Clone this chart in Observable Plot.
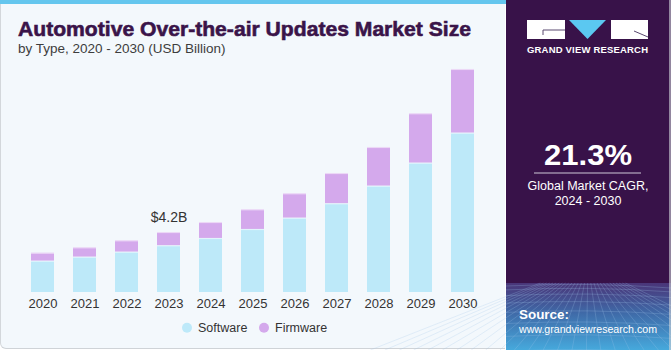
<!DOCTYPE html>
<html><head><meta charset="utf-8">
<script src="https://cdn.jsdelivr.net/npm/d3@7"></script>
<script src="https://cdn.jsdelivr.net/npm/@observablehq/plot@0.6"></script>
<style>
html,body{margin:0;padding:0;background:#ffffff;}
#root{position:relative;width:671px;height:350px;overflow:hidden;font-family:"Liberation Sans",Arial,sans-serif;}
#left{position:absolute;left:0;top:0;width:505px;height:349px;background:#f3f8fc;border-left:1px solid #d3d7db;border-bottom:1px solid #cfd3d7;border-radius:0 0 0 6px;box-sizing:border-box;}
#stripe{position:absolute;left:0;top:0;width:506px;height:4px;background:#64c6ee;}
#chart{position:absolute;left:0;top:0;}
#overlay{position:absolute;left:0;top:0;}
</style>
</head><body>
<div id="root">
  <div id="left"></div>
  <div id="stripe"></div>
  <div id="chart"></div>
  <svg id="overlay" width="671" height="350"></svg>
</div>
<script>
// ---- data ----
const years = ["2020","2021","2022","2023","2024","2025","2026","2027","2028","2029","2030"];
const software = [2.19, 2.47, 2.82, 3.27, 3.78, 4.41, 5.20, 6.21, 7.44, 9.05, 11.15];
const firmware = [0.56, 0.66, 0.80, 0.93, 1.12, 1.38, 1.71, 2.12, 2.71, 3.46, 4.46];
const seriesNames = ["Software", "Firmware"];
const seriesColors = ["#bde9f9", "#d4a9ec"];
const annotationYear = "2023";
const annotationLabel = "$4.2B";
const titleText = "Automotive Over-the-air Updates Market Size";
const subtitleText = "by Type, 2020 - 2030 (USD Billion)";
const cagrValue = "21.3%";
const cagrLines = ["Global Market CAGR,", "2024 - 2030"];
const sourceLines = ["Source:", "www.grandviewresearch.com"];
const brandText = "GRAND VIEW RESEARCH";

// ---- table ----
const rows = [];
years.forEach((y, i) => {
  rows.push({year: y, type: seriesNames[0], value: software[i]});
  rows.push({year: y, type: seriesNames[1], value: firmware[i]});
});
const ai = years.indexOf(annotationYear);
const annot = [{year: annotationYear, total: software[ai] + firmware[ai], label: annotationLabel}];

const plot = Plot.plot({
  width: 505,
  height: 320,
  marginTop: 63.4,
  marginBottom: 28,
  marginLeft: 12,
  marginRight: 12,
  style: {background: "transparent", fontFamily: "Liberation Sans, Arial, sans-serif", fontSize: "13px", color: "#333"},
  x: {type: "band", domain: years, padding: 0.445, label: null, tickSize: 0, tickPadding: 6},
  y: {domain: [0, 16], axis: null},
  color: {domain: seriesNames, range: seriesColors},
  marks: [
    Plot.barY(rows, {x: "year", y: "value", fill: "type", order: seriesNames}),
    Plot.tickY(rows, Plot.stackY2({x: "year", y: "value", z: "type", order: seriesNames, stroke: "#ffffff", strokeOpacity: 0.55, strokeWidth: 1.2})),
    Plot.text(annot, {x: "year", y: "total", text: "label", dy: -15, fontSize: 14, fill: "#333"})
  ]
});
document.getElementById("chart").appendChild(plot);

// ---- overlay: titles, legend, side panel ----
const svg = d3.select("#overlay");
svg.append("text").attr("x", 18).attr("y", 36).text(titleText)
  .attr("font-family", "Liberation Sans, Arial, sans-serif").attr("font-weight", 900)
  .attr("font-size", 21).attr("fill", "#3a1449")
  .attr("textLength", 453).attr("lengthAdjust", "spacingAndGlyphs")
  .attr("stroke", "#3a1449").attr("stroke-width", 0.6);
svg.append("text").attr("x", 18).attr("y", 53).text(subtitleText)
  .attr("font-family", "Liberation Sans, Arial, sans-serif")
  .attr("font-size", 13.5).attr("fill", "#3d3d3d");

// legend
const legendX = [187, 264];
seriesNames.forEach((n, i) => {
  svg.append("circle").attr("cx", legendX[i]).attr("cy", 327.7).attr("r", 5).attr("fill", seriesColors[i]);
  svg.append("text").attr("x", legendX[i] + 11).attr("y", 332).text(n)
    .attr("font-family", "Liberation Sans, Arial, sans-serif").attr("font-size", 12.5).attr("fill", "#333");
});

// side panel
const defs = svg.append("defs");
const g1 = defs.append("linearGradient").attr("id", "bottomGrad").attr("x1", 0).attr("y1", 0).attr("x2", 0).attr("y2", 1);
g1.append("stop").attr("offset", "0%").attr("stop-color", "#4a3578");
g1.append("stop").attr("offset", "45%").attr("stop-color", "#3f6aa8");
g1.append("stop").attr("offset", "100%").attr("stop-color", "#46a9dc");
svg.append("rect").attr("x", 506).attr("y", 0).attr("width", 165).attr("height", 350).attr("fill", "#381249");
svg.append("rect").attr("x", 506).attr("y", 283).attr("width", 165).attr("height", 67).attr("fill", "url(#bottomGrad)");
// faint grid decoration
const grid = svg.append("g").attr("stroke", "#9fc6ec").attr("stroke-opacity", 0.35).attr("stroke-width", 0.7).attr("fill", "none");
for (let k = 0; k < 9; k++) {
  const yy = 286 + k * k * 0.9 + k * 3;
  grid.append("path").attr("d", `M506,${yy} Q590,${yy - 4} 671,${yy + 2}`);
}
for (let k = -6; k < 22; k++) {
  const x0 = 506 + k * 9;
  grid.append("path").attr("d", `M${588 + (x0 - 588) * 0.35},283 L${x0 + (x0 - 588) * 0.6},350`);
}
svg.append("rect").attr("x", 669).attr("y", 0).attr("width", 2).attr("height", 350).attr("fill", "#cfd3d8").attr("opacity", 0.6);

// logo
const logo = svg.append("g");
logo.append("rect").attr("x", 527).attr("y", 20).attr("width", 38).attr("height", 19).attr("fill", "#ffffff");
logo.append("path").attr("d", "M543,30 H565 M543,30 V35").attr("stroke", "#5a4a70").attr("stroke-width", 1).attr("fill", "none");
logo.append("path").attr("d", "M569,20 H606 L587.5,39 Z").attr("fill", "#5bc8f1");
logo.append("rect").attr("x", 611).attr("y", 20).attr("width", 37).attr("height", 19).attr("fill", "#ffffff");
logo.append("path").attr("d", "M634,31 L648,37").attr("stroke", "#5a4a70").attr("stroke-width", 1).attr("fill", "none");
svg.append("text").attr("x", 587.5).attr("y", 53).attr("text-anchor", "middle").text(brandText)
  .attr("font-family", "Liberation Sans, Arial, sans-serif").attr("font-weight", 700)
  .attr("font-size", 9.5).attr("fill", "#ffffff").attr("textLength", 121).attr("lengthAdjust", "spacing");

svg.append("text").attr("x", 588).attr("y", 165).attr("text-anchor", "middle").text(cagrValue)
  .attr("font-family", "Liberation Sans, Arial, sans-serif").attr("font-weight", 700)
  .attr("font-size", 29).attr("fill", "#ffffff").attr("textLength", 88).attr("lengthAdjust", "spacingAndGlyphs");
svg.append("line").attr("x1", 534).attr("x2", 641).attr("y1", 173).attr("y2", 173).attr("stroke", "#cfc8d8").attr("stroke-width", 1);
cagrLines.forEach((t, i) => {
  svg.append("text").attr("x", 588).attr("y", 190 + i * 15).attr("text-anchor", "middle").text(t)
    .attr("font-family", "Liberation Sans, Arial, sans-serif").attr("font-size", 12.5).attr("fill", "#ffffff");
});
const srcSizes = [12, 11.5];
const srcLens = [50, 138];
sourceLines.forEach((t, i) => {
  svg.append("text").attr("x", 519).attr("y", 319 + i * 14).text(t)
    .attr("font-family", "Liberation Sans, Arial, sans-serif").attr("font-weight", i === 0 ? 700 : 400)
    .attr("font-size", srcSizes[i]).attr("fill", "#ffffff")
    .attr("textLength", srcLens[i]).attr("lengthAdjust", "spacingAndGlyphs");
});
</script>
</body></html>
